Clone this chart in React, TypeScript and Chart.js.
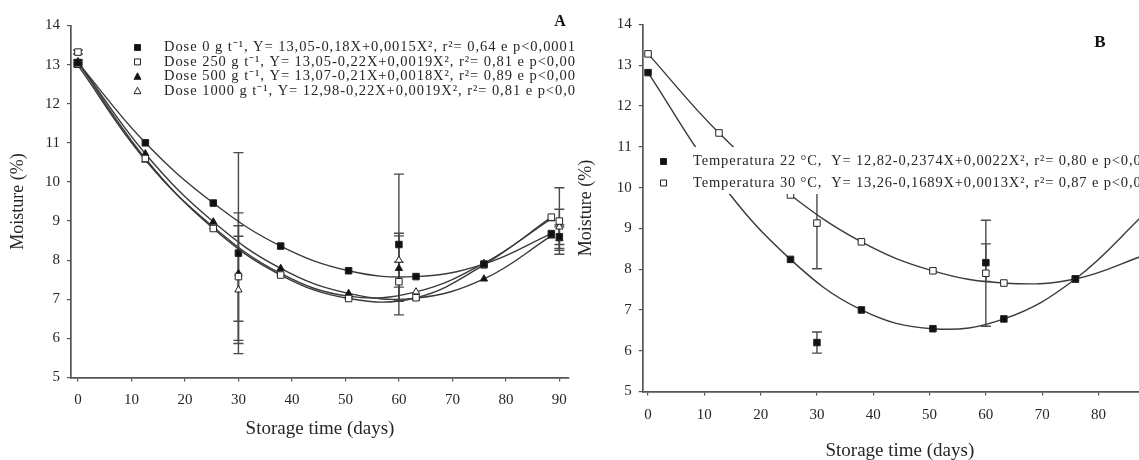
import React, { useEffect, useRef } from "react";
import { Chart, registerables } from "chart.js";

Chart.register(...registerables);

const FONT = "'Liberation Serif', 'Times New Roman', serif";
const LINE = "#3a3a3a";
const AXIS = "#555555";
const TEXT = "#262626";

// ---------------- Panel A data ----------------
const fitDaysA = [0, 12.6, 25.3, 37.9, 50.6, 63.2, 75.9, 88.5];
const dose0Fit = [13.05, 11.0, 9.46, 8.36, 7.73, 7.58, 7.9, 8.68];
const dose250Fit = [13.05, 10.6, 8.81, 7.62, 7.02, 7.04, 7.88, 9.1];
const dose500Fit = [13.07, 10.72, 8.98, 7.79, 7.15, 7.03, 7.52, 8.62];
const dose1000Fit = [12.98, 10.56, 8.85, 7.66, 7.08, 7.19, 7.92, 9.06];

const obsDaysA = [0, 30, 60, 90];
const dose0Obs = [13.05, 8.18, 8.4, 8.6];
const dose0Err = [0.05, 2.57, 1.8, 0.3];
const dose250Obs = [13.32, 7.58, 7.45, 9.0];
const dose250Err = [0.05, 1.63, 0.5, 0.85];
const dose500Obs = [13.07, 7.66, 7.79, 8.55];
const dose500Err = [0.05, 1.22, 0.83, 0.3];
const dose1000Obs = [13.0, 7.24, 8.0, 8.85];
const dose1000Err = [0.05, 1.37, 0.69, 0.45];

const legendA = [
  "Dose 0 g t⁻¹, Y= 13,05-0,18X+0,0015X², r²= 0,64 e p<0,0001",
  "Dose 250 g t⁻¹, Y= 13,05-0,22X+0,0019X², r²= 0,81 e p<0,0001",
  "Dose 500 g t⁻¹, Y= 13,07-0,21X+0,0018X², r²= 0,89 e p<0,0001",
  "Dose 1000 g t⁻¹, Y= 12,98-0,22X+0,0019X², r²= 0,81 e p<0,0001",
];

// ---------------- Panel B data ----------------
const fitDaysB = [0, 12.6, 25.3, 37.9, 50.6, 63.2, 75.9, 88.5];
const temp22Fit = [12.82, 10.18, 8.24, 7.0, 6.54, 6.78, 7.76, 9.4];
const temp30Fit = [13.28, 11.34, 9.82, 8.67, 7.96, 7.66, 7.76, 8.36];

const obsDaysB = [30, 60];
const temp22Obs = [6.2, 8.16];
const temp22Err = [0.26, 0.46];
const temp30Obs = [9.13, 7.9];
const temp30Err = [1.12, 1.3];

const legendB = [
  "Temperatura 22 °C,  Y= 12,82-0,2374X+0,0022X², r²= 0,80 e p<0,01",
  "Temperatura 30 °C,  Y= 13,26-0,1689X+0,0013X², r²= 0,87 e p<0,01",
];

const yTicks = [5, 6, 7, 8, 9, 10, 11, 12, 13, 14];

type Marker = { style: string; fill: string };
const FILLED_SQ: Marker = { style: "rect", fill: "#111111" };
const OPEN_SQ: Marker = { style: "rect", fill: "#ffffff" };
const FILLED_TRI: Marker = { style: "triangle", fill: "#111111" };
const OPEN_TRI: Marker = { style: "triangle", fill: "#ffffff" };

function pts(days: number[], vals: number[]) {
  return days.map((d, i) => ({ x: d, y: vals[i] }));
}

function fitDataset(days: number[], vals: number[], m: Marker, r: number) {
  return {
    data: pts(days, vals),
    showLine: true,
    borderColor: LINE,
    borderWidth: 1.4,
    tension: 0.4,
    pointStyle: m.style,
    pointRadius: r,
    pointBackgroundColor: m.fill,
    pointBorderColor: "#222222",
    pointBorderWidth: 1,
  };
}

function obsDataset(days: number[], vals: number[], errs: number[], m: Marker, r: number) {
  return {
    data: pts(days, vals),
    showLine: false,
    errors: errs,
    pointStyle: m.style,
    pointRadius: r,
    pointBackgroundColor: m.fill,
    pointBorderColor: "#222222",
    pointBorderWidth: 1,
  };
}

const errorBarPlugin = {
  id: "errorBars",
  beforeDatasetsDraw(chart: any) {
    const ctx = chart.ctx;
    const ys = chart.scales.y;
    ctx.save();
    ctx.strokeStyle = "#4a4a4a";
    ctx.lineWidth = 1.4;
    chart.data.datasets.forEach((ds: any, i: number) => {
      if (!ds.errors) return;
      const meta = chart.getDatasetMeta(i);
      meta.data.forEach((el: any, j: number) => {
        const v = ds.data[j].y;
        const e = ds.errors[j];
        const top = ys.getPixelForValue(v + e);
        const bot = ys.getPixelForValue(v - e);
        const x = el.x;
        ctx.beginPath();
        ctx.moveTo(x, top);
        ctx.lineTo(x, bot);
        ctx.moveTo(x - 5, top);
        ctx.lineTo(x + 5, top);
        ctx.moveTo(x - 5, bot);
        ctx.lineTo(x + 5, bot);
        ctx.stroke();
      });
    });
    ctx.restore();
  },
};

function drawMarker(ctx: CanvasRenderingContext2D, m: Marker, x: number, y: number, s: number) {
  ctx.beginPath();
  if (m.style === "rect") {
    ctx.rect(x - s / 2, y - s / 2, s, s);
  } else {
    ctx.moveTo(x, y - s / 2 - 0.5);
    ctx.lineTo(x + s / 2 + 0.5, y + s / 2);
    ctx.lineTo(x - s / 2 - 0.5, y + s / 2);
    ctx.closePath();
  }
  ctx.fillStyle = m.fill;
  ctx.fill();
  ctx.strokeStyle = "#222222";
  ctx.lineWidth = 1;
  ctx.stroke();
}

const panelTextPlugin = {
  id: "panelText",
  afterDatasetsDraw(chart: any, _args: any, opts: any) {
    const ctx = chart.ctx as any;
    ctx.save();
    if (opts.box) {
      ctx.fillStyle = "#ffffff";
      ctx.fillRect(opts.box.x, opts.box.y, opts.box.w, opts.box.h);
    }
    ctx.font = `${opts.fontSize}px ${FONT}`;
    ctx.letterSpacing = `${opts.letterSpacing}px`;
    ctx.textBaseline = "middle";
    ctx.textAlign = "left";
    opts.items.forEach((it: any, i: number) => {
      const y = opts.y + i * opts.spacing;
      drawMarker(ctx, it.marker, opts.markerX, y, opts.markerSize);
      ctx.fillStyle = TEXT;
      ctx.fillText(it.text, opts.textX, y);
    });
    ctx.letterSpacing = "0px";
    ctx.font = `bold ${opts.letterSize}px ${FONT}`;
    ctx.textAlign = "center";
    ctx.fillStyle = "#111111";
    ctx.fillText(opts.letter, opts.letterX, opts.letterY);
    ctx.restore();
  },
};

function axes(o: any) {
  return {
    x: {
      type: "linear",
      min: o.xMin,
      max: o.xMax,
      afterFit: (s: any) => {
        s.height = o.xHeight;
      },
      ticks: {
        stepSize: 10,
        includeBounds: false,
        color: TEXT,
        font: { family: FONT, size: 15 },
        padding: o.xTickPad,
        maxRotation: 0,
        autoSkip: false,
      },
      grid: { display: true, drawOnChartArea: false, drawTicks: true, tickLength: 4, color: AXIS, lineWidth: 1.2 },
      border: { display: true, color: AXIS, width: 1.7 },
      title: {
        display: true,
        text: "Storage time (days)",
        color: TEXT,
        font: { family: FONT, size: 19 },
        padding: { top: 0, bottom: o.xTitlePad },
      },
    },
    y: {
      type: "linear",
      min: 5,
      max: 14,
      afterFit: (s: any) => {
        s.width = o.yWidth;
      },
      afterBuildTicks: (s: any) => {
        s.ticks = yTicks.map((v) => ({ value: v }));
      },
      ticks: {
        color: TEXT,
        font: { family: FONT, size: 15 },
        padding: 7,
        autoSkip: false,
      },
      grid: { display: true, drawOnChartArea: false, drawTicks: true, tickLength: 4, color: AXIS, lineWidth: 1.2 },
      border: { display: true, color: AXIS, width: 1.7 },
      title: {
        display: true,
        text: "Moisture (%)",
        color: TEXT,
        font: { family: FONT, size: 18 },
        padding: { top: o.yTitlePad, bottom: 0 },
      },
    },
  };
}

function baseOptions(o: any, panelText: any) {
  return {
    responsive: false,
    animation: false,
    devicePixelRatio: 1,
    events: [],
    layout: { padding: { left: 0, top: o.top, right: 20, bottom: 0 } },
    plugins: {
      legend: { display: false },
      tooltip: { enabled: false },
      panelText,
    },
    scales: axes(o),
  };
}

function configA() {
  const markers = [FILLED_SQ, OPEN_SQ, FILLED_TRI, OPEN_TRI];
  return {
    type: "scatter",
    data: {
      datasets: [
        fitDataset(fitDaysA, dose0Fit, FILLED_SQ, 4.6),
        fitDataset(fitDaysA, dose250Fit, OPEN_SQ, 4.6),
        fitDataset(fitDaysA, dose500Fit, FILLED_TRI, 4.2),
        fitDataset(fitDaysA, dose1000Fit, OPEN_TRI, 4.2),
        obsDataset(obsDaysA, dose0Obs, dose0Err, FILLED_SQ, 4.6),
        obsDataset(obsDaysA, dose250Obs, dose250Err, OPEN_SQ, 4.6),
        obsDataset(obsDaysA, dose500Obs, dose500Err, FILLED_TRI, 4.2),
        obsDataset(obsDaysA, dose1000Obs, dose1000Err, OPEN_TRI, 4.2),
      ],
    },
    options: baseOptions(
      { xMin: -1.3, xMax: 91.8, xHeight: 82.5, top: 25.5, yWidth: 71, xTickPad: 9.5, xTitlePad: 19.5, yTitlePad: 7 },
      {
        items: legendA.map((t, i) => ({ text: t, marker: markers[i] })),
        markerX: 137.5,
        textX: 164,
        y: 47.5,
        spacing: 14.4,
        fontSize: 14.5,
        letterSpacing: 0.95,
        markerSize: 6,
        letter: "A",
        letterX: 560,
        letterY: 22,
        letterSize: 16,
      }
    ),
    plugins: [errorBarPlugin, panelTextPlugin],
  };
}

function configB() {
  const markers = [FILLED_SQ, OPEN_SQ];
  return {
    type: "scatter",
    data: {
      datasets: [
        fitDataset(fitDaysB, temp22Fit, FILLED_SQ, 4.6),
        fitDataset(fitDaysB, temp30Fit, OPEN_SQ, 4.6),
        obsDataset(obsDaysB, temp22Obs, temp22Err, FILLED_SQ, 4.6),
        obsDataset(obsDaysB, temp30Obs, temp30Err, OPEN_SQ, 4.6),
      ],
    },
    options: baseOptions(
      { xMin: -0.95, xMax: 90.4, xHeight: 68.5, top: 24.5, yWidth: 67.7, xTickPad: 10.5, xTitlePad: -2, yTitlePad: 0 },
      {
        items: legendB.map((t, i) => ({ text: t, marker: markers[i] })),
        box: { x: 75, y: 147, w: 600, h: 47 },
        markerX: 88.5,
        textX: 118,
        y: 161.5,
        spacing: 21.5,
        fontSize: 14.5,
        letterSpacing: 0.85,
        markerSize: 6,
        letter: "B",
        letterX: 525,
        letterY: 43,
        letterSize: 17,
      }
    ),
    plugins: [errorBarPlugin, panelTextPlugin],
  };
}

function ChartCanvas({ make, width, height }: { make: () => any; width: number; height: number }) {
  const ref = useRef<HTMLCanvasElement | null>(null);
  useEffect(() => {
    if (!ref.current) return;
    Chart.defaults.font.family = FONT;
    const chart = new Chart(ref.current, make());
    return () => chart.destroy();
  }, []);
  return <canvas ref={ref} width={width} height={height} style={{ display: "block", width, height }} />;
}

export default function App() {
  return (
    <div
      style={{
        position: "absolute",
        left: 0,
        top: 0,
        width: 1139,
        height: 460,
        overflow: "hidden",
        background: "#ffffff",
      }}
    >
      <div style={{ position: "absolute", left: 0, top: 0, width: 575, height: 460, overflow: "hidden" }}>
        <ChartCanvas make={configA} width={589} height={460} />
      </div>
      <div style={{ position: "absolute", left: 575, top: 0, width: 564, height: 460, overflow: "hidden" }}>
        <ChartCanvas make={configB} width={602} height={460} />
      </div>
    </div>
  );
}
